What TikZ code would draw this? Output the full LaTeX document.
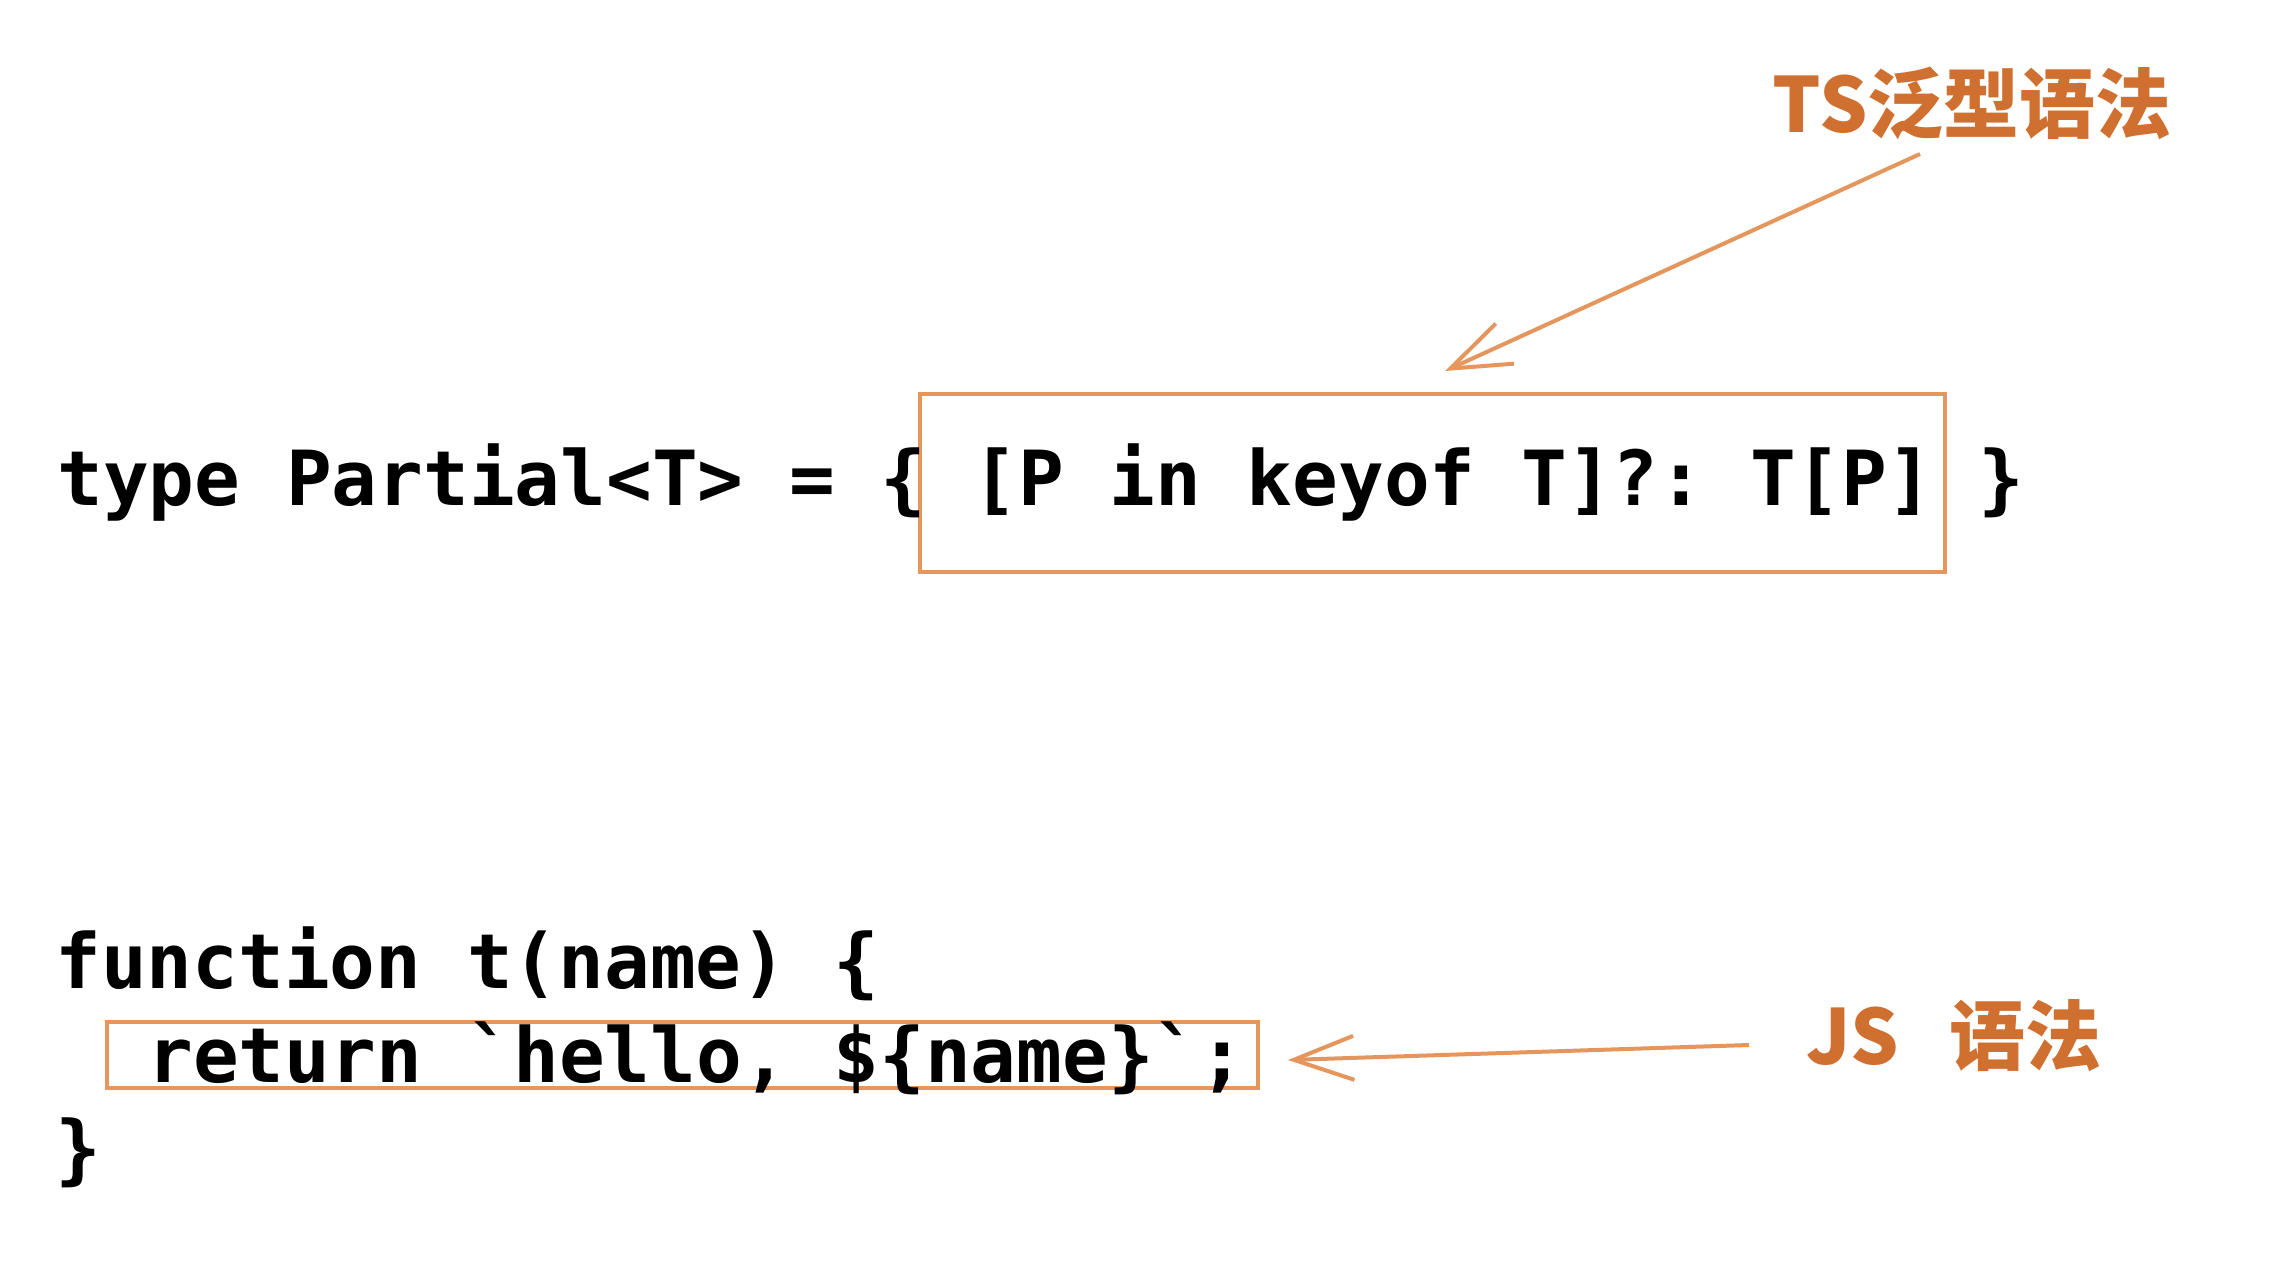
\documentclass[tikz,border=0pt]{standalone}
\usepackage{fontspec}
\setmonofont{DejaVu Sans Mono}
\newfontfamily\cjk{Noto Sans CJK SC}
\usetikzlibrary{arrows.meta}
\definecolor{labelorange}{RGB}{208,112,48}
\definecolor{lineorange}{RGB}{228,150,92}
\newcommand{\bq}{\textasciigrave}
\begin{document}
\begin{tikzpicture}[x=0.5pt,y=-0.5pt,
  code/.style={font=\ttfamily\bfseries\fontsize{38pt}{46pt}\selectfont\frenchspacing, inner sep=0, anchor=base west, text=black},
  lbl/.style={font=\cjk\bfseries\fontsize{38pt}{44pt}\selectfont, text=labelorange, inner sep=0, anchor=base west},
  hl/.style={draw=lineorange, line width=2pt, inner sep=0},
  ptr/.style={draw=lineorange, line width=2pt, -{Straight Barb[length=30pt, width=22pt]}}]
\fill[white] (0,0) rectangle (2272,1260);
\useasboundingbox (0,0) rectangle (2272,1260);
% highlight boxes
\node[hl, minimum width=512.5pt, minimum height=89pt] (box1) at (1432.5,483) {};
\node[hl, minimum width=575.5pt, minimum height=33pt] (box2) at (682.5,1055) {};
% code lines
\node[code] (l1) at (57,505) {type Partial<T> = \{ [P in keyof T]?: T[P] \}};
\node[code] (l2) at (55,988) {function t(name) \{};
\node[code] (l3) at (147,1082) {return \bq hello, \$\{name\}\bq;};
\node[code] (l4) at (55,1175) {\}};
% labels
\node[lbl] (ts) at (1772,132) {TS泛型语法};
\node[lbl] (js) at (1806,1064) {JS\hspace{25pt}语法};
% arrows
\coordinate (a1s) at (1920,154);
\coordinate (a1e) at (1445,371);
\coordinate (a2s) at (1749,1045);
\coordinate (a2e) at (1288,1060);
\draw[ptr] (a1s) -- (a1e);
\draw[ptr] (a2s) -- (a2e);
\end{tikzpicture}
\end{document}
